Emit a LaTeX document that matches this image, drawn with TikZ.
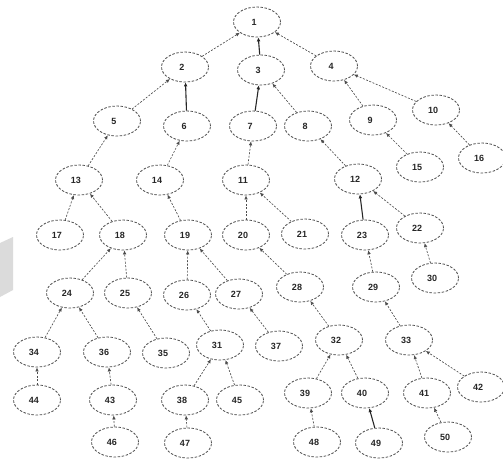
\documentclass[tikz,border=0pt]{standalone}
\usepackage{fontspec}
\setmainfont{Liberation Sans}
\usetikzlibrary{shapes.geometric,arrows.meta}
\tikzset{
  tnode/.style={ellipse,draw=black!70,dash pattern=on 2.5pt off 1.6pt,line width=0.8pt,
    minimum width=47pt,minimum height=30pt,inner sep=0pt},
  tlabel/.style={inner sep=0pt,font=\fontsize{9}{10}\selectfont\bfseries,text=black!85},
  dedge/.style={draw=black!70,dash pattern=on 2pt off 1.5pt,line width=0.65pt,
    -{Latex[length=4pt,width=3.6pt]}},
  sedge/.style={draw=black!85,line width=1.1pt,-{Latex[length=4pt,width=3.8pt]}},
}
\newcommand\tn[4]{\node[tnode] (n#1) at (#2,#3) {};\node[tlabel] (t#1) at (#2-3,#3) {#4};}
\begin{document}
\begin{tikzpicture}[x=1pt,y=-1pt]
\useasboundingbox (0,0) rectangle (503,459);
\fill[black!14] (0,243) -- (13,237) -- (13,290) -- (0,297) -- cycle;
\tn{1}{257}{22}{1}
\tn{2}{185}{67}{2}
\tn{3}{261}{70}{3}
\tn{4}{334}{66}{4}
\tn{5}{117}{121}{5}
\tn{6}{187}{126}{6}
\tn{7}{253}{126}{7}
\tn{8}{308}{126}{8}
\tn{9}{373}{120}{9}
\tn{10}{436}{110}{10}
\tn{13}{79}{180}{13}
\tn{14}{160}{180}{14}
\tn{11}{246}{180}{11}
\tn{12}{358}{179}{12}
\tn{15}{420}{167}{15}
\tn{16}{482}{158}{16}
\tn{17}{60}{235}{17}
\tn{18}{123}{235}{18}
\tn{19}{188}{235}{19}
\tn{20}{246}{235}{20}
\tn{21}{305}{234}{21}
\tn{23}{365}{235}{23}
\tn{22}{420}{228}{22}
\tn{24}{70}{293}{24}
\tn{25}{128}{293}{25}
\tn{26}{187}{295}{26}
\tn{27}{239}{294}{27}
\tn{28}{300}{287}{28}
\tn{29}{376}{287}{29}
\tn{30}{435}{278}{30}
\tn{34}{37}{352}{34}
\tn{36}{107}{352}{36}
\tn{35}{166}{353}{35}
\tn{31}{220}{345}{31}
\tn{37}{279}{346}{37}
\tn{32}{339}{340}{32}
\tn{33}{409}{340}{33}
\tn{44}{37}{400}{44}
\tn{43}{113}{400}{43}
\tn{38}{185}{400}{38}
\tn{45}{240}{400}{45}
\tn{39}{308}{393}{39}
\tn{40}{365}{393}{40}
\tn{41}{427}{393}{41}
\tn{42}{481}{387}{42}
\tn{46}{115}{442}{46}
\tn{47}{188}{443}{47}
\tn{48}{317}{442}{48}
\tn{49}{379}{443}{49}
\tn{50}{448}{437}{50}
\foreach \c/\p in {2/1,4/1,5/2,8/3,9/4,10/4,13/5,14/6,11/7,12/8,15/9,16/10,
  17/13,18/13,19/14,20/11,21/11,22/12,24/18,25/18,26/19,27/19,28/20,29/23,30/22,
  34/24,36/24,35/25,31/26,37/27,32/28,33/29,44/34,43/36,38/31,45/31,39/32,40/32,
  41/33,42/33,46/43,47/38,48/39,50/41}
  \draw[dedge] (n\c) -- (n\p);
\foreach \c/\p in {3/1,6/2,7/3,23/12,49/40}
  \draw[sedge] (n\c) -- (n\p);
\end{tikzpicture}
\end{document}
